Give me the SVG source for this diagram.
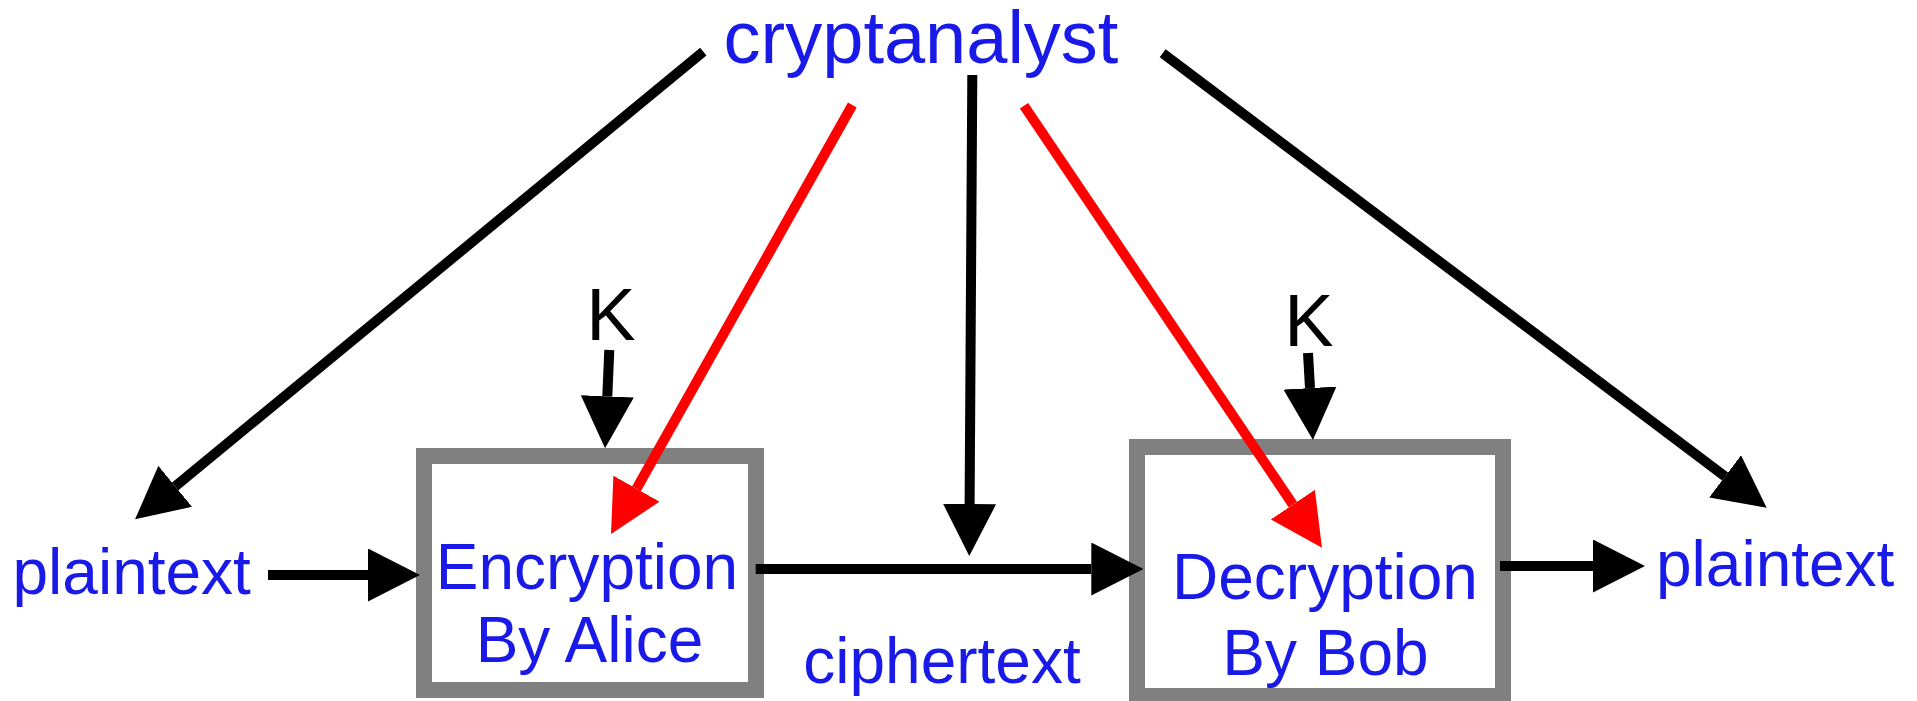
<svg xmlns="http://www.w3.org/2000/svg" width="1917" height="701" viewBox="0 0 1917 701">
  <style>
    .lbl { font-family: "Liberation Sans", Arial, sans-serif; fill: #1a1ae8; }
    .big { font-size: 74px; }
    .mid { font-size: 64px; }
    .key { font-family: "Liberation Sans", Arial, sans-serif; font-size: 74px; fill: #000; }
    .box { fill: #fff; stroke: #808080; stroke-width: 16; }
    .wire { fill: none; stroke: #000; stroke-width: 10; marker-end: url(#head); }
    .attack { fill: none; stroke: #ff0000; stroke-width: 10; marker-end: url(#headRed); }
  </style>
  <defs>
    <!-- arrowheads start at the line end and point along it -->
    <marker id="head" viewBox="0 0 52 53" refX="0" refY="26.5" markerWidth="52" markerHeight="53" markerUnits="userSpaceOnUse" orient="auto">
      <path d="M0,0 L52,26.5 L0,53 z" fill="#000"/>
    </marker>
    <marker id="headRed" viewBox="0 0 52 53" refX="0" refY="26.5" markerWidth="52" markerHeight="53" markerUnits="userSpaceOnUse" orient="auto">
      <path d="M0,0 L52,26.5 L0,53 z" fill="#ff0000"/>
    </marker>
  </defs>
  <rect width="1917" height="701" fill="#fff"/>

  <g id="cryptanalyst">
    <text class="lbl big" x="921" y="63" text-anchor="middle">cryptanalyst</text>
  </g>

  <g id="plaintext-in">
    <text class="lbl mid" x="12.5" y="594">plaintext</text>
  </g>

  <g id="plaintext-out">
    <text class="lbl mid" x="1656" y="586">plaintext</text>
  </g>

  <g id="key-alice">
    <text class="key" x="611" y="340" text-anchor="middle">K</text>
  </g>

  <g id="key-bob">
    <text class="key" x="1309" y="346" text-anchor="middle">K</text>
  </g>

  <g id="encryption">
    <rect class="box" x="424" y="456" width="332" height="234"/>
    <text class="lbl mid" x="587" y="589" text-anchor="middle">Encryption</text>
    <text class="lbl mid" x="589.5" y="662" text-anchor="middle">By Alice</text>
  </g>

  <g id="decryption">
    <rect class="box" x="1137" y="447" width="366" height="249"/>
    <text class="lbl mid" x="1325" y="599" text-anchor="middle">Decryption</text>
    <text class="lbl mid" x="1325.5" y="675" text-anchor="middle">By Bob</text>
  </g>

  <g id="ciphertext">
    <text class="lbl mid" x="942" y="683" text-anchor="middle">ciphertext</text>
  </g>

  <g id="connectors">
    <!-- message flow -->
    <line class="wire" x1="268" y1="575" x2="368" y2="575"/>
    <line class="wire" x1="755.7" y1="569" x2="1091.3" y2="569"/>
    <line class="wire" x1="1500" y1="566" x2="1593" y2="566"/>
    <!-- keys -->
    <line class="wire" x1="609.3" y1="350" x2="607.3" y2="396.3"/>
    <line class="wire" x1="1308" y1="353" x2="1310" y2="388.1"/>
    <!-- cryptanalyst observations -->
    <line class="wire" x1="703.3" y1="51.7" x2="175.2" y2="486.3"/>
    <line class="wire" x1="1162.7" y1="53.3" x2="1725.1" y2="476.4"/>
    <line class="wire" x1="972.3" y1="75" x2="969.6" y2="504"/>
    <!-- attacks on the two ends -->
    <line class="attack" x1="852.3" y1="105" x2="636.5" y2="488.7"/>
    <line class="attack" x1="1024" y1="105.7" x2="1292.9" y2="504.6"/>
  </g>
</svg>
